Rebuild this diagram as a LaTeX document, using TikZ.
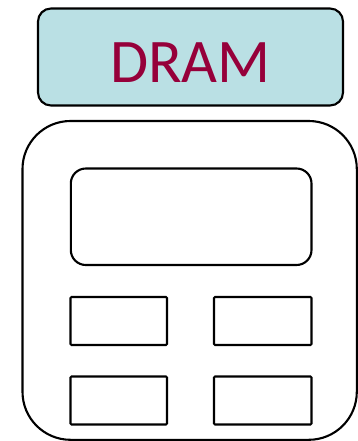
\documentclass[tikz,border=0pt]{standalone}
\usepackage{fontspec}
\setmainfont{Carlito}
\definecolor{dramfill}{RGB}{186,224,228}
\definecolor{dramtext}{RGB}{150,0,58}
\begin{document}
\begin{tikzpicture}[x=1pt,y=-1pt,
  box/.style={draw=black,line width=2.1pt},
  cell/.style={draw=black,line width=2.1pt,rounded corners=1pt}]
\useasboundingbox (0,0) rectangle (358,441);
\draw[box,fill=dramfill,rounded corners=13pt] (38,8.5) rectangle (343,105.5);
\node[text=dramtext,font=\fontsize{62}{62}\selectfont] (dram) at (190.5,63) {DRAM};
\draw[box,rounded corners=48pt] (22.5,121) rectangle (356.8,439.8);
\draw[box,rounded corners=15pt] (70.8,168.5) rectangle (311.5,265);
\draw[cell] (70.5,297) rectangle (167,345);
\draw[cell] (214,297) rectangle (311.5,345);
\draw[cell] (70.5,376.5) rectangle (167,424.5);
\draw[cell] (214,376.5) rectangle (311.5,424.5);
\end{tikzpicture}
\end{document}
